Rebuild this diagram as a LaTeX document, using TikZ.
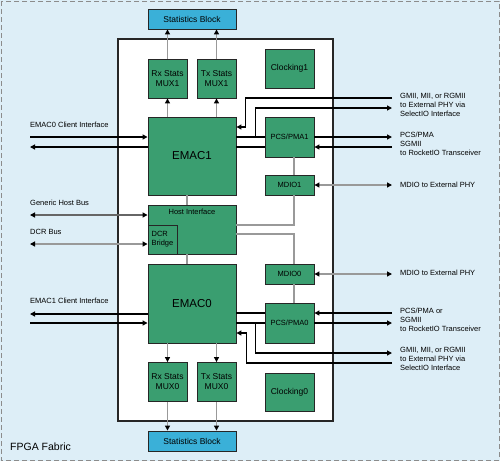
\documentclass[tikz,border=0pt]{standalone}
\usepackage{fontspec}
\setmainfont{Liberation Sans}
\usetikzlibrary{arrows.meta,calc,positioning}
\definecolor{fabric}{RGB}{221,238,247}
\definecolor{blkgreen}{RGB}{58,158,112}
\definecolor{statblue}{RGB}{58,176,216}

\begin{document}
\begin{tikzpicture}[x=1pt, y=-1pt]
    \tikzset{blk/.style = {draw=black!85, fill=blkgreen, line width=0.9pt,
        inner sep=0pt, align=center, font=\fontsize{8.5}{10}\selectfont},
      statblk/.style = {blk, fill=statblue, minimum width=88pt, minimum height=20pt},
      mux/.style = {blk, minimum width=39pt, minimum height=39pt},
      side/.style = {blk, minimum width=49pt},
      emac/.style = {blk, minimum width=88pt, font=\fontsize{11.5}{13}\selectfont},
      small/.style = {font=\fontsize{7.5}{9.3}\selectfont},
      lbl/.style = {small, align=left, anchor=west, inner sep=0pt},
      dat/.style = {line width=1.2pt, black, >={Triangle[length=5pt,width=5pt]}},
      ctl/.style = {line width=1.2pt, black!40, >={Triangle[length=5pt,width=5pt,color=black]}}}
    \useasboundingbox (0,0) rectangle (500,461);
    \fill[fabric] (0,0) rectangle (500,461);
    \draw[black!45, line width=1pt, dash pattern=on 5pt off 3pt] (1,1) rectangle (499,460);
    \draw[black!85, fill=white, line width=1.2pt] (118,39) rectangle (333,421);
    \node[small, font=\fontsize{10.5}{12}\selectfont, anchor=west, inner sep=0pt] (fabric) at (10,447) {FPGA Fabric};

    \node[statblk] (statT) at (192,19) {Statistics Block};
    \node[statblk] (statB) at (192,441) {Statistics Block};
    \node[mux] (rxm1) at (167.5,78.5) {Rx Stats\\MUX1};
    \node[mux] (txm1) at (216.5,78.5) {Tx Stats\\MUX1};
    \node[mux] (rxm0) at (167.5,382) {Rx Stats\\MUX0};
    \node[mux] (txm0) at (216.5,382) {Tx Stats\\MUX0};
    \node[emac, minimum height=78pt] (emac1) at (192,156) {EMAC1};
    \node[emac, minimum height=79pt] (emac0) at (192,303.5) {EMAC0};
    \node[blk, minimum width=88pt, minimum height=49pt] (host) at (192,229.5) {};
    \node[small, below=4pt of host.north, inner sep=0pt] (hostlbl) {Host Interface};
    \node[blk, small, align=left, minimum width=29pt, minimum height=29pt] (dcr) at (162.5,239.5) {DCR\\Bridge};
    \node[side, minimum height=39pt] (clk1) at (289.5,68.5) {Clocking1};
    \node[side, small, minimum height=40pt] (pcs1) at (289.5,137) {PCS/PMA1};
    \node[side, small, minimum height=20pt] (mdio1) at (289.5,185) {MDIO1};
    \node[side, small, minimum height=20pt] (mdio0) at (289.5,274) {MDIO0};
    \node[side, small, minimum height=40pt] (pcs0) at (289.5,323) {PCS/PMA0};
    \node[side, minimum height=38pt] (clk0) at (289.5,392) {Clocking0};

    % statistics paths
    \draw[ctl,->] (emac1.north -| rxm1) -- (rxm1.south);
    \draw[ctl,->] (emac1.north -| txm1) -- (txm1.south);
    \draw[ctl,->] (rxm1.north) -- (statT.south -| rxm1);
    \draw[ctl,->] (txm1.north) -- (statT.south -| txm1);
    \draw[ctl,->] (emac0.south -| rxm0) -- (rxm0.north);
    \draw[ctl,->] (emac0.south -| txm0) -- (txm0.north);
    \draw[ctl,->] (rxm0.south) -- (statB.north -| rxm0);
    \draw[ctl,->] (txm0.south) -- (statB.north -| txm0);

    % host and management
    \draw[ctl] ([xshift=-5pt]emac1.south) -- ([xshift=-5pt]host.north);
    \draw[ctl] ([xshift=-5pt]host.south) -- ([xshift=-5pt]emac0.north);
    \draw[ctl] ([yshift=4.5pt]host.east) -| ([xshift=4.5pt]mdio1.south);
    \draw[ctl] ([yshift=-4.5pt]host.east) -| ([xshift=4.5pt]mdio0.north);
    \draw[ctl] ([xshift=4.5pt]pcs1.south) -- ([xshift=4.5pt]mdio1.north);
    \draw[ctl] ([xshift=4.5pt]mdio0.south) -- ([xshift=4.5pt]pcs0.north);

    % left side
    \coordinate (ci0in)  at (30,137);
    \coordinate (ci0out) at (30,147);
    \coordinate (hbus)   at (30,215);
    \coordinate (dbus)   at (30,244);
    \coordinate (ci1out) at (30,314);
    \coordinate (ci1in)  at (30,323);
    \draw[dat,->] (ci0in) -- (emac1.west |- ci0in);
    \draw[dat,->] (emac1.west |- ci0out) -- (ci0out);
    \draw[ctl,black!60,<->] (hbus) -- (host.west |- hbus);
    \draw[ctl,<->] (dbus) -- (dcr.west |- dbus);
    \draw[dat,->] (emac0.west |- ci1out) -- (ci1out);
    \draw[dat,->] (ci1in) -- (emac0.west |- ci1in);
    \node[lbl] (ci0lbl) at (30,125) {EMAC0 Client Interface};
    \node[lbl] (hbuslbl) at (30,203) {Generic Host Bus};
    \node[lbl] (dbuslbl) at (30,232) {DCR Bus};
    \node[lbl] (ci1lbl) at (30,301) {EMAC1 Client Interface};

    % right side
    \coordinate (gm1in)  at (392,98);
    \coordinate (gm1out) at (392,108);
    \coordinate (sg1out) at (392,137);
    \coordinate (sg1in)  at (392,147);
    \coordinate (md1)    at (392,185);
    \coordinate (md0)    at (392,274);
    \coordinate (sg0in)  at (392,313);
    \coordinate (sg0out) at (392,323);
    \coordinate (gm0out) at (392,353);
    \coordinate (gm0in)  at (392,363);
    \draw[dat,->] (gm1in) -| ($(emac1.east)+(9,-29)$) -- ($(emac1.east)+(0,-29)$);
    \draw[dat] (emac1.east |- sg1out) -- (pcs1.west |- sg1out);
    \draw[dat] (emac1.east |- sg1in) -- (pcs1.west |- sg1in);
    \draw[dat,->] ($(emac1.east |- sg1out)+(19,0)$) |- (gm1out);
    \draw[dat,->] (pcs1.east |- sg1out) -- (sg1out);
    \draw[dat,->] (sg1in) -- (pcs1.east |- sg1in);
    \draw[ctl,<->] (mdio1.east) -- (md1);
    \draw[ctl,<->] (mdio0.east) -- (md0);
    \draw[dat,->] (sg0in) -- (pcs0.east |- sg0in);
    \draw[dat,->] (pcs0.east |- sg0out) -- (sg0out);
    \draw[dat] (emac0.east |- sg0in) -- (pcs0.west |- sg0in);
    \draw[dat] (emac0.east |- sg0out) -- (pcs0.west |- sg0out);
    \draw[dat,->] ($(emac0.east |- sg0out)+(19,0)$) |- (gm0out);
    \draw[dat,->] (gm0in) -| ($(emac0.east)+(10,29.5)$) -- ($(emac0.east)+(0,29.5)$);
    \node[lbl] (gm1lbl) at (400,105) {GMII, MII, or RGMII\\to External PHY via\\SelectIO Interface};
    \node[lbl] (sg1lbl) at (400,144) {PCS/PMA\\SGMII\\to RocketIO Transceiver};
    \node[lbl] (md1lbl) at (400,185) {MDIO to External PHY};
    \node[lbl] (md0lbl) at (400,273) {MDIO to External PHY};
    \node[lbl] (sg0lbl) at (400,320) {PCS/PMA or\\SGMII\\to RocketIO Transceiver};
    \node[lbl] (gm0lbl) at (400,359) {GMII, MII, or RGMII\\to External PHY via\\SelectIO Interface};
\end{tikzpicture}
\end{document}
